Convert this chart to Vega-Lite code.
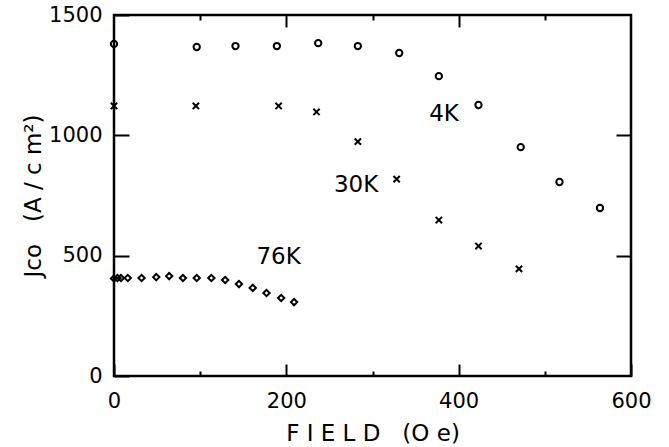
{
  "$schema": "https://vega.github.io/schema/vega-lite/v6.json",
  "width": 517,
  "height": 361,
  "autosize": {"type": "none"},
  "padding": {"left": 114, "top": 15, "right": 38, "bottom": 71},
  "background": "white",
  "config": {
    "view": {"stroke": "black", "strokeWidth": 2.5},
    "axis": {
      "grid": false,
      "domain": false,
      "tickColor": "black",
      "tickWidth": 2,
      "labelFont": "DejaVu Sans",
      "labelFontSize": 21,
      "labelColor": "black",
      "titleFont": "DejaVu Sans",
      "titleFontSize": 23,
      "titleFontWeight": "normal",
      "titleColor": "black"
    }
  },
  "datasets": {
    "pts": [
      {"series": "4K", "field": 0, "J": 1380},
      {"series": "4K", "field": 96, "J": 1367},
      {"series": "4K", "field": 141, "J": 1371},
      {"series": "4K", "field": 189, "J": 1371},
      {"series": "4K", "field": 237, "J": 1383},
      {"series": "4K", "field": 283, "J": 1371},
      {"series": "4K", "field": 331, "J": 1342},
      {"series": "4K", "field": 377, "J": 1246},
      {"series": "4K", "field": 423, "J": 1126},
      {"series": "4K", "field": 472, "J": 951},
      {"series": "4K", "field": 517, "J": 806},
      {"series": "4K", "field": 564, "J": 698},
      {"series": "30K", "field": 0, "J": 1122},
      {"series": "30K", "field": 95, "J": 1122},
      {"series": "30K", "field": 191, "J": 1122},
      {"series": "30K", "field": 235, "J": 1097},
      {"series": "30K", "field": 283, "J": 974},
      {"series": "30K", "field": 328, "J": 818},
      {"series": "30K", "field": 377, "J": 648},
      {"series": "30K", "field": 423, "J": 540},
      {"series": "30K", "field": 470, "J": 445},
      {"series": "76K", "field": 0, "J": 405},
      {"series": "76K", "field": 4, "J": 407},
      {"series": "76K", "field": 8, "J": 407},
      {"series": "76K", "field": 16, "J": 407},
      {"series": "76K", "field": 32, "J": 407},
      {"series": "76K", "field": 49, "J": 411},
      {"series": "76K", "field": 64, "J": 415},
      {"series": "76K", "field": 80, "J": 407},
      {"series": "76K", "field": 96, "J": 407},
      {"series": "76K", "field": 113, "J": 407},
      {"series": "76K", "field": 129, "J": 399},
      {"series": "76K", "field": 145, "J": 382},
      {"series": "76K", "field": 161, "J": 366},
      {"series": "76K", "field": 177, "J": 345},
      {"series": "76K", "field": 194, "J": 324},
      {"series": "76K", "field": 209, "J": 307}
    ],
    "labels": [
      {"label": "4K", "field": 383, "J": 1088},
      {"label": "30K", "field": 281, "J": 793},
      {"label": "76K", "field": 191, "J": 494}
    ]
  },
  "layer": [
    {
      "data": {"name": "pts"},
      "mark": {"type": "point", "filled": false, "stroke": "black", "strokeWidth": 2, "opacity": 1, "size": 40, "clip": false},
      "encoding": {
        "x": {
          "field": "field", "type": "quantitative",
          "scale": {"domain": [0, 600], "nice": false, "zero": false},
          "axis": {
            "orient": "bottom",
            "values": [0, 100, 200, 300, 400, 500, 600],
            "format": "d",
            "tickSize": {"condition": {"test": "datum.value % 200 === 0", "value": -12}, "value": -5},
            "labelExpr": "datum.value % 200 === 0 ? datum.label : ''",
            "labelPadding": 26,
            "labelFlush": false,
            "labelOverlap": false,
            "title": "F I E L D\u00a0\u00a0\u00a0(O e)",
            "titleFontSize": 23,
            "titlePadding": 4
          }
        },
        "y": {
          "field": "J", "type": "quantitative",
          "scale": {"domain": [0, 1500], "nice": false, "zero": false},
          "axis": {
            "orient": "left",
            "values": [0, 500, 1000, 1500],
            "format": "d",
            "tickSize": -15,
            "labelPadding": 27,
            "labelFlush": false,
            "labelOverlap": false,
            "title": "Jco\u00a0\u00a0\u00a0(A / c m²)",
            "titleFontSize": 23,
            "titlePadding": 3
          }
        },
        "shape": {
          "field": "series", "type": "nominal",
          "scale": {"domain": ["4K", "30K", "76K"], "range": ["circle", "M-1,-1L1,1M1,-1L-1,1", "diamond"]},
          "legend": null
        }
      }
    },
    {
      "data": {"name": "labels"},
      "mark": {"type": "text", "font": "DejaVu Sans", "fontSize": 23, "color": "black", "align": "center", "baseline": "middle"},
      "encoding": {
        "x": {"field": "field", "type": "quantitative", "axis": null},
        "y": {"field": "J", "type": "quantitative", "axis": null},
        "text": {"field": "label"}
      }
    },
    {
      "data": {"name": "pts"},
      "mark": {"type": "point", "opacity": 0},
      "encoding": {
        "x": {
          "field": "field", "type": "quantitative",
          "axis": {
            "orient": "top",
            "values": [100, 200, 300, 400, 500],
            "tickSize": {"condition": {"test": "datum.value % 200 === 0", "value": -12}, "value": -5},
            "labels": false,
            "title": null
          }
        },
        "y": {
          "field": "J", "type": "quantitative",
          "axis": {
            "orient": "right",
            "values": [500, 1000],
            "tickSize": -15,
            "labels": false,
            "title": null
          }
        }
      }
    }
  ],
  "resolve": {"axis": {"x": "independent", "y": "independent"}}
}
